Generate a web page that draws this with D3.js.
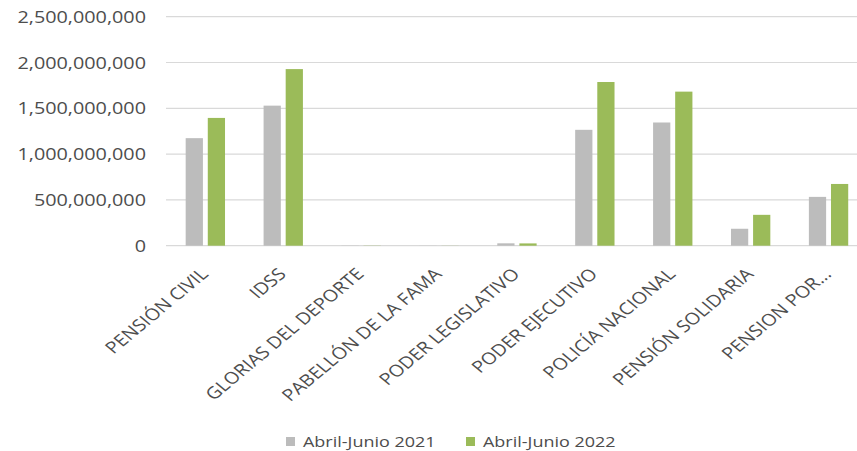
<!DOCTYPE html>
<html>
<head>
<meta charset="utf-8">
<script src="https://cdn.jsdelivr.net/npm/d3@7"></script>
<style>
  body { margin: 0; background: #fff; }
  text { font-family: "Open Sans", sans-serif; fill: #4d4d4d; }
</style>
</head>
<body>
<svg></svg>
<script>
var categories = ['PENSIÓN CIVIL', 'IDSS', 'GLORIAS DEL DEPORTE', 'PABELLÓN DE LA FAMA',
  'PODER LEGISLATIVO', 'PODER EJECUTIVO', 'POLICÍA NACIONAL', 'PENSIÓN SOLIDARIA', 'PENSION POR...']
var seriesNames = ['Abril-Junio 2021', 'Abril-Junio 2022']
var values2021 = [1174e6, 1529e6, 2e6, 1e6, 26e6, 1265e6, 1345e6, 185e6, 533e6]
var values2022 = [1395e6, 1928e6, 2e6, 1e6, 25e6, 1787e6, 1682e6, 337e6, 674e6]
var yTicks = [0, 500e6, 1000e6, 1500e6, 2000e6, 2500e6]
var colors = ['#bcbcbc', '#9bbb59']

var width = 857
var height = 451
// the source image is stretched sideways a bit, so text gets the same stretch
var sx = 1.2

var svg = d3.select('svg').attr('width', width).attr('height', height)

var x0 = d3.scaleBand()
  .domain(categories)
  .range([166.4, 867.5])
  .paddingInner(0.495)
  .paddingOuter(0.2475)

var x1 = d3.scaleBand()
  .domain(seriesNames)
  .range([0, x0.bandwidth()])
  .paddingInner(0.22)

var y = d3.scaleLinear()
  .domain([0, 2500e6])
  .range([245.7, 16.7])

var fmt = d3.format(',')

// gridlines
svg.append('g').selectAll('line')
  .data(yTicks)
  .enter().append('line')
  .attr('x1', 166)
  .attr('x2', width)
  .attr('y1', d => y(d))
  .attr('y2', d => y(d))
  .attr('stroke', '#d9d9d9')
  .attr('stroke-width', 1.2)

// y labels
svg.append('g').selectAll('text')
  .data(yTicks)
  .enter().append('text')
  .attr('transform', d => 'translate(146,' + (y(d) + 6) + ') scale(' + sx + ',1)')
  .attr('text-anchor', 'end')
  .attr('font-size', 16.5)
  .text(d => fmt(d))

// bars
var rows = categories.map((c, i) => ({ cat: c, vals: [values2021[i], values2022[i]] }))

var groups = svg.append('g').selectAll('g')
  .data(rows)
  .enter().append('g')
  .attr('transform', d => 'translate(' + x0(d.cat) + ',0)')

groups.selectAll('rect')
  .data(d => d.vals.map((v, j) => ({ name: seriesNames[j], value: v, j: j })))
  .enter().append('rect')
  .attr('x', d => x1(d.name))
  .attr('width', x1.bandwidth())
  .attr('y', d => y(d.value))
  .attr('height', d => y(0) - y(d.value))
  .attr('fill', d => colors[d.j])

// category labels, rotated
svg.append('g').selectAll('text')
  .data(categories)
  .enter().append('text')
  .attr('transform', d => 'translate(' + (x0(d) + x0.bandwidth() / 2 - 1) + ',' + 271 + ') scale(' + sx + ',1) rotate(-45)')
  .attr('text-anchor', 'end')
  .attr('dy', '0.35em')
  .attr('font-size', 16.5)
  .text(d => d)

// legend
var legend = svg.append('g')
var legendX = [286, 466]
seriesNames.forEach((name, i) => {
  legend.append('rect')
    .attr('x', legendX[i])
    .attr('y', 437)
    .attr('width', 9)
    .attr('height', 9)
    .attr('fill', colors[i])
  legend.append('text')
    .attr('transform', 'translate(' + (legendX[i] + 17) + ',447) scale(' + sx + ',1)')
    .attr('font-size', 15)
    .text(name)
})
</script>
</body>
</html>
